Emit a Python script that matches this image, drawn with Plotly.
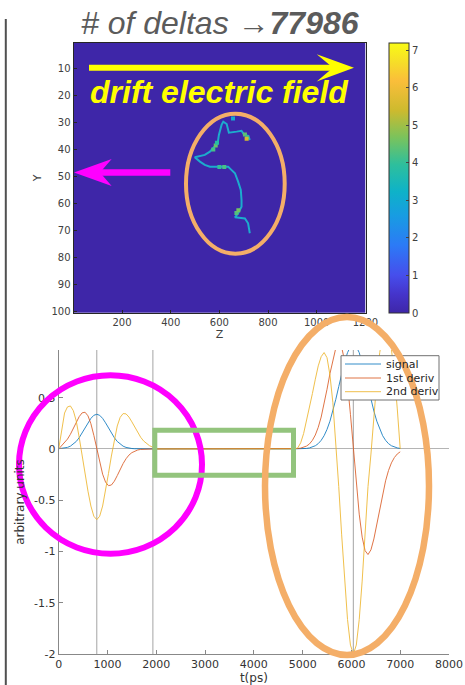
import numpy as np
import plotly.graph_objects as go

W, H = 465, 685
def px(x): return x / W
def py(y): return 1 - y / H

# ---------------- heatmap (top) data ----------------
n_rows, n_cols, bin_width = 100, 120, 10
background_value = 0
z_max = 7.19
cbar_ticks = [0, 1, 2, 3, 4, 5, 6, 7]
hm_x_ticks = [200, 400, 600, 800, 1000, 1200]
hm_y_ticks = [10, 20, 30, 40, 50, 60, 70, 80, 90, 100]

track_z = [725, 718, 702, 691, 671, 639, 630, 616, 609, 598, 593, 579, 561, 540, 513, 499,
           520, 540, 561, 636, 643, 664, 677, 688, 691, 691, 677, 664, 705, 718, 725]
track_y = [36.5, 35.0, 34.6, 33.1, 33.4, 33.8, 30.6, 29.7, 30.9, 34.6, 37.7, 39.2, 40.8, 42.0, 42.7, 42.9,
           44.5, 45.7, 46.4, 46.4, 47.0, 48.8, 51.9, 55.0, 58.7, 61.2, 63.6, 65.1, 65.5, 67.3, 71.0]
blob_z = [585, 575, 590, 705, 715, 712, 670, 678, 600, 620, 656]
blob_y = [38.5, 40.0, 37.5, 34.5, 35.5, 36.0, 63.5, 62.5, 46.5, 46.5, 28.5]
blob_v = [4.5, 4.2, 3.8, 4.4, 4.0, 5.5, 4.3, 4.6, 4.0, 4.2, 3.0]

# ---------------- line chart (bottom) data ----------------
t_ns = [0, 60, 120, 180, 240, 300, 360, 420, 480, 540, 600, 660, 720, 780, 840, 900, 960, 1020,
        1080, 1140, 1200, 1260, 1320, 1380, 1440, 1500, 1560, 1620, 1680, 1740, 1800, 1860, 1920,
        1980, 4780,
        4840, 4900, 4960, 5020, 5080, 5140, 5200, 5260, 5320, 5380, 5440, 5500, 5560, 5620, 5680,
        5740, 5800, 5860, 5920, 5980, 6040, 6100, 6160, 6220, 6280, 6340, 6400, 6460, 6520, 6580,
        6640, 6700, 6760, 6820, 6880, 6940, 7000]
signal = [0.002, 0.004, 0.008, 0.015, 0.027, 0.046, 0.073, 0.110, 0.155, 0.205, 0.255, 0.298, 0.328,
          0.338, 0.328, 0.298, 0.255, 0.205, 0.155, 0.110, 0.073, 0.046, 0.027, 0.015, 0.008, 0.004,
          0.002, 0.001, 0.0, 0.0, 0.0, 0.0, 0.0,
          0.0, 0.0,
          0.0, 0.001, 0.001, 0.003, 0.005, 0.010, 0.018, 0.031, 0.052, 0.084, 0.129, 0.191, 0.271,
          0.370, 0.484, 0.608, 0.733, 0.847, 0.939, 0.999, 1.020, 0.999, 0.939, 0.847, 0.733, 0.608,
          0.484, 0.370, 0.271, 0.191, 0.129, 0.084, 0.052, 0.031, 0.018, 0.010, 0.005]
deriv1 = [0.0, 0.030, 0.060, 0.096, 0.143, 0.199, 0.260, 0.315, 0.352, 0.358, 0.323, 0.246, 0.133,
          0.0, -0.133, -0.246, -0.323, -0.358, -0.352, -0.315, -0.260, -0.199, -0.143, -0.096, -0.060,
          -0.036, -0.020, -0.010, -0.005, -0.002, -0.001, 0.0, 0.0,
          0.0, 0.0,
          0.002, 0.004, 0.008, 0.015, 0.028, 0.049, 0.084, 0.136, 0.211, 0.311, 0.436, 0.582, 0.735,
          0.878, 0.984, 1.030, 0.992, 0.860, 0.636, 0.338, 0.0, -0.338, -0.636, -0.860, -0.992, -1.030,
          -0.984, -0.878, -0.735, -0.582, -0.436, -0.311, -0.211, -0.136, -0.084, -0.049, -0.028]
deriv2 = [0.0, 0.20, 0.35, 0.41, 0.419, 0.373, 0.272, 0.113, -0.069, -0.241, -0.412, -0.557, -0.656,
          -0.69, -0.656, -0.557, -0.412, -0.241, -0.069, 0.093, 0.224, 0.308, 0.345, 0.342, 0.311,
          0.264, 0.210, 0.159, 0.114, 0.078, 0.051, 0.032, 0.019,
          0.0, 0.0,
          0.0, 0.01, 0.06, 0.15, 0.27, 0.40, 0.54, 0.68, 0.81, 0.90, 0.94, 0.89, 0.72, 0.45, 0.07,
          -0.367, -0.838, -1.289, -1.664, -1.913, -2.0, -1.913, -1.664, -1.289, -0.838, -0.367,
          -0.05, 0.32, 0.66, 0.94, 1.10, 1.16, 1.12, 0.97, 0.73, 0.39, 0.0]
series_names = ["signal", "1st deriv", "2nd deriv"]
series_colors = ["#0072BD", "#D95319", "#EDB120"]
marker_times = [780, 1930, 6040]
lc_x_ticks = [0, 1000, 2000, 3000, 4000, 5000, 6000, 7000, 8000]
lc_y_ticks = [-2, -1.5, -1, -0.5, 0, 0.5, 1]
lc_y_ticktext = ["-2", "-1.5", "-1", "-0.5", "0", "0.5", "1"]

parula = [[0.0, "rgb(62,38,168)"], [0.07, "rgb(69,52,203)"], [0.14, "rgb(70,78,236)"],
          [0.25, "rgb(44,122,246)"], [0.36, "rgb(24,156,226)"], [0.45, "rgb(14,178,200)"],
          [0.55, "rgb(46,191,156)"], [0.65, "rgb(122,195,92)"], [0.75, "rgb(205,186,46)"],
          [0.86, "rgb(250,190,58)"], [0.93, "rgb(246,222,40)"], [1.0, "rgb(249,251,21)"]]

tick_font = dict(family="DejaVu Sans", size=10, color="#404040")

fig = go.Figure()

fig.add_trace(go.Heatmap(
    z=np.full((n_rows, n_cols), background_value), x0=0.5 + bin_width / 2, dx=bin_width, y0=1, dy=1,
    colorscale=parula, zmin=0, zmax=z_max, xaxis="x", yaxis="y", hoverinfo="skip",
    colorbar=dict(x=px(389), xanchor="left", xpad=0, ypad=0, y=py(43), yanchor="top",
                  len=270 / H, lenmode="fraction", thickness=20, thicknessmode="pixels",
                  outlinewidth=1, outlinecolor="#333333", tickvals=cbar_ticks, ticks="inside",
                  ticklen=3, tickcolor="#444444", tickfont=tick_font)))
fig.add_trace(go.Scatter(x=track_z, y=track_y, mode="lines", xaxis="x", yaxis="y",
                         line=dict(color="rgb(28,172,205)", width=2), showlegend=False, hoverinfo="skip"))
fig.add_trace(go.Scatter(x=blob_z, y=blob_y, mode="markers", xaxis="x", yaxis="y", showlegend=False,
                         marker=dict(symbol="square", size=4, color=blob_v, colorscale=parula,
                                     cmin=0, cmax=z_max, showscale=False), hoverinfo="skip"))

for name, vals, col in zip(series_names, [signal, deriv1, deriv2], series_colors):
    fig.add_trace(go.Scatter(x=t_ns, y=vals, mode="lines", name=name, xaxis="x2", yaxis="y2",
                             line=dict(color=col, width=1), opacity=0.8, showlegend=False))

shapes = []
for tm in marker_times:
    shapes.append(dict(type="line", xref="x2", yref="y2 domain", x0=tm, x1=tm, y0=0, y1=1,
                       line=dict(color="#b4b4b4", width=1.2), layer="below"))
# page frame line
shapes.append(dict(type="line", xref="paper", yref="paper", x0=px(5.8), x1=px(5.8), y0=py(19), y1=0,
                   line=dict(color="#505050", width=2), layer="above"))
# legend box + samples
shapes.append(dict(type="rect", xref="paper", yref="paper", x0=px(341), x1=px(439), y0=py(400), y1=py(355.7),
                   fillcolor="white", line=dict(color="#707070", width=1), layer="above"))
annotations = []
legend_rows = [364, 378, 391.7]
for name, col, ry in zip(series_names, series_colors, legend_rows):
    shapes.append(dict(type="line", xref="paper", yref="paper", x0=px(345), x1=px(381), y0=py(ry), y1=py(ry),
                       line=dict(color=col, width=1), opacity=0.8, layer="above"))
    annotations.append(dict(xref="paper", yref="paper", x=px(383.5), y=py(ry), showarrow=False,
                            xanchor="left", yanchor="middle", text=name,
                            font=dict(family="DejaVu Sans", size=11, color="#262626")))
# yellow arrow
shapes.append(dict(type="line", xref="paper", yref="paper", x0=px(89), x1=px(334), y0=py(67.7), y1=py(67.7),
                   line=dict(color="#FFFF00", width=6), layer="above"))
shapes.append(dict(type="path", xref="paper", yref="paper",
                   path=f"M {px(354)},{py(67.7)} L {px(316.7)},{py(54.3)} L {px(333)},{py(67.7)} L {px(316.7)},{py(81.5)} Z",
                   fillcolor="#FFFF00", line=dict(width=0), layer="above"))
# magenta arrow
shapes.append(dict(type="line", xref="paper", yref="paper", x0=px(100), x1=px(170.3), y0=py(172.5), y1=py(172.5),
                   line=dict(color="#FF00FF", width=6.5), layer="above"))
shapes.append(dict(type="path", xref="paper", yref="paper",
                   path=f"M {px(74)},{py(172.5)} L {px(111.7)},{py(159)} L {px(100)},{py(172.5)} L {px(111.7)},{py(186)} Z",
                   fillcolor="#FF00FF", line=dict(width=0), layer="above"))
# ellipses / rectangle
shapes.append(dict(type="circle", xref="paper", yref="paper", x0=px(186), x1=px(284.7), y0=py(253.7), y1=py(113.7),
                   line=dict(color="#F4AE68", width=4), layer="above"))
shapes.append(dict(type="circle", xref="paper", yref="paper", x0=px(19), x1=px(202), y0=py(553.7), y1=py(375.3),
                   line=dict(color="#FF00FF", width=6), layer="above"))
shapes.append(dict(type="rect", xref="paper", yref="paper", x0=px(154.8), x1=px(293.5), y0=py(475.2), y1=py(430.2),
                   line=dict(color="#93C47D", width=5), layer="above"))
shapes.append(dict(type="circle", xref="paper", yref="paper", x0=px(265), x1=px(429), y0=py(655), y1=py(317),
                   line=dict(color="#F4AE68", width=6.5), layer="above"))

annotations += [
    dict(xref="paper", yref="paper", x=px(220), y=py(23), showarrow=False, xanchor="center", yanchor="middle",
         text="<i># of deltas \u2192<b>77986</b></i>",
         font=dict(family="Liberation Sans", size=32, color="#5b5b5b")),
    dict(xref="paper", yref="paper", x=px(219.5), y=py(92), showarrow=False, xanchor="center", yanchor="middle",
         text="<b><i>drift electric field</i></b>",
         font=dict(family="Liberation Sans", size=32, color="#FFFF00")),
]

fig.update_layout(
    width=W, height=H, autosize=False, margin=dict(l=0, r=0, t=0, b=0),
    paper_bgcolor="white", plot_bgcolor="white",
    shapes=shapes, annotations=annotations, showlegend=False,
    xaxis=dict(domain=[px(73.5), px(365.5)], range=[0.5, 1200.5], anchor="y", tickvals=hm_x_ticks,
               ticks="inside", ticklen=3, tickcolor="#262626", showline=True, mirror=True,
               linecolor="#262626", linewidth=1, showgrid=False, zeroline=False, tickfont=tick_font,
               automargin=False,
               title=dict(text="Z", font=dict(family="DejaVu Sans", size=11, color="#404040"), standoff=2)),
    yaxis=dict(domain=[py(313), py(42.7)], range=[100.5, 0.5], anchor="x", tickvals=hm_y_ticks,
               ticks="inside", ticklen=3, tickcolor="#262626", showline=True, mirror=True,
               linecolor="#262626", linewidth=1, showgrid=False, zeroline=False, tickfont=tick_font,
               automargin=False,
               title=dict(text="Y", font=dict(family="DejaVu Sans", size=11, color="#404040"), standoff=7)),
    xaxis2=dict(domain=[px(58.7), px(449)], range=[0, 8000], anchor="y2", tickvals=lc_x_ticks,
                ticks="inside", ticklen=4, tickcolor="#888888", showline=True, linecolor="#888888",
                linewidth=1, showgrid=False, zeroline=False, automargin=False,
                tickfont=dict(family="DejaVu Sans", size=11, color="#333333"),
                title=dict(text="t(ps)", font=dict(family="DejaVu Sans", size=12, color="#333333"), standoff=2)),
    yaxis2=dict(domain=[py(654), py(350)], range=[-2, 0.965], anchor="x2", tickvals=lc_y_ticks,
                ticktext=lc_y_ticktext, ticks="inside", ticklen=4, tickcolor="#888888", showline=True,
                linecolor="#888888", linewidth=1, showgrid=False, zeroline=True, zerolinecolor="#b4b4b4",
                zerolinewidth=1.2, tickfont=dict(family="DejaVu Sans", size=11, color="#333333"),
                automargin=False,
                title=dict(text="arbitrary units", font=dict(family="DejaVu Sans", size=12, color="#333333"),
                           standoff=6)),
)

fig.write_html("out.html", config={"displayModeBar": False},
               post_script="document.body.style.margin='0';document.body.style.padding='0';")
